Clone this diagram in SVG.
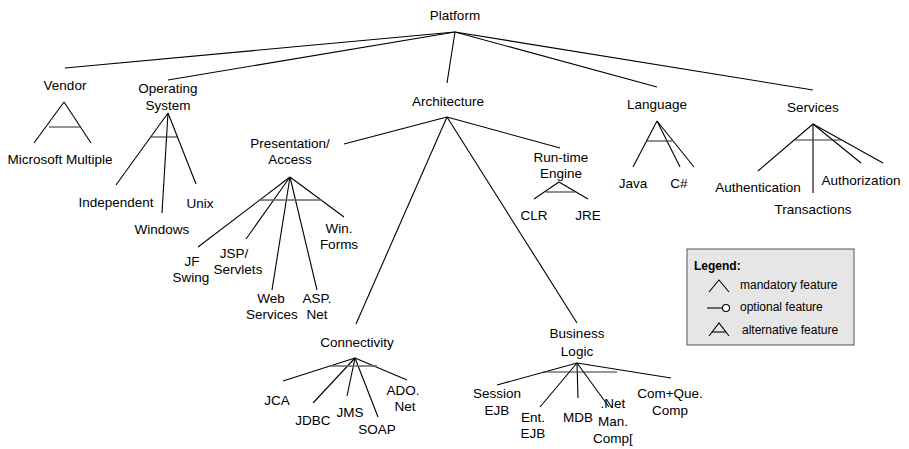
<svg xmlns="http://www.w3.org/2000/svg" width="909" height="449" viewBox="0 0 909 449">
<style>
text{font-family:"Liberation Sans",Arial,sans-serif;font-size:13.5px;fill:#000;text-anchor:middle}
.lg{font-size:12px;text-anchor:start}
.lgb{font-size:12px;font-weight:bold;text-anchor:start}
line,polyline{stroke:#000;stroke-width:1.1;fill:none}
.bar{stroke:#333}
.gbar{stroke:#666;stroke-width:1.4}
</style>
<rect width="909" height="449" fill="#fff"/>
<g id="connectors">
<!-- Platform -->
<line x1="455" y1="32" x2="65" y2="68"/>
<line x1="455" y1="32" x2="168" y2="80"/>
<line x1="455" y1="32" x2="447" y2="83"/>
<line x1="455" y1="32" x2="657" y2="87"/>
<line x1="455" y1="32" x2="813" y2="90"/>
<!-- Vendor -->
<line x1="64" y1="102" x2="34" y2="143"/>
<line x1="64" y1="102" x2="91" y2="143"/>
<line class="gbar" x1="49" y1="127" x2="80" y2="127"/>
<!-- OS -->
<line x1="168" y1="113" x2="116" y2="185"/>
<line x1="168" y1="113" x2="162" y2="213"/>
<line x1="168" y1="113" x2="196" y2="184"/>
<line class="bar" x1="151" y1="137" x2="177" y2="137"/>
<!-- Architecture -->
<line x1="447" y1="117" x2="344" y2="144"/>
<line x1="447" y1="117" x2="356" y2="324"/>
<line x1="447" y1="117" x2="577" y2="323"/>
<line x1="447" y1="117" x2="560" y2="148"/>
<!-- Presentation -->
<line x1="290" y1="177" x2="198" y2="247"/>
<line x1="290" y1="177" x2="246" y2="239"/>
<line x1="290" y1="177" x2="272" y2="290"/>
<line x1="290" y1="177" x2="317" y2="290"/>
<line x1="290" y1="177" x2="344" y2="217"/>
<line class="gbar" x1="259" y1="200" x2="322" y2="200"/>
<!-- Connectivity -->
<line x1="355" y1="358" x2="283" y2="381"/>
<line x1="355" y1="358" x2="313" y2="403"/>
<line x1="355" y1="358" x2="347" y2="396"/>
<line x1="355" y1="358" x2="378" y2="417"/>
<line x1="355" y1="358" x2="407" y2="380"/>
<line class="gbar" x1="329" y1="366" x2="377" y2="366"/>
<!-- Business Logic -->
<line x1="577" y1="363" x2="497" y2="385"/>
<line x1="577" y1="363" x2="540" y2="407"/>
<line x1="577" y1="363" x2="578" y2="398"/>
<line x1="577" y1="363" x2="609" y2="407"/>
<line x1="577" y1="363" x2="671" y2="378"/>
<line class="bar" x1="543" y1="372" x2="617" y2="372"/>
<!-- Run-time -->
<line x1="559" y1="182" x2="534" y2="199"/>
<line x1="559" y1="182" x2="588" y2="199"/>
<line class="bar" x1="546" y1="192" x2="575" y2="192"/>
<!-- Language -->
<line x1="657" y1="121" x2="633" y2="167"/>
<line x1="657" y1="121" x2="680" y2="167"/>
<line x1="657" y1="121" x2="694" y2="167"/>
<line class="bar" x1="646" y1="141" x2="672" y2="141"/>
<!-- Services -->
<line x1="813" y1="124" x2="758" y2="171"/>
<line x1="813" y1="124" x2="813" y2="193"/>
<line x1="813" y1="124" x2="861" y2="163"/>
<line x1="813" y1="124" x2="883" y2="163"/>
<line class="bar" x1="795" y1="140" x2="842" y2="140"/>
</g>
<g id="platform"><text x="455" y="20">Platform</text></g>
<g id="vendor"><text x="65" y="90">Vendor</text></g>
<g id="microsoft-multiple"><text x="60" y="164">Microsoft Multiple</text></g>
<g id="operating-system"><text x="168" y="93">Operating</text><text x="168" y="110">System</text></g>
<g id="independent"><text x="116" y="207">Independent</text></g>
<g id="windows"><text x="162" y="234">Windows</text></g>
<g id="unix"><text x="200" y="208">Unix</text></g>
<g id="architecture"><text x="448" y="106">Architecture</text></g>
<g id="presentation"><text x="290" y="148">Presentation/</text><text x="290" y="164">Access</text></g>
<g id="jf-swing"><text x="192" y="266">JF</text><text x="191" y="282">Swing</text></g>
<g id="jsp"><text x="234" y="258">JSP/</text><text x="238" y="274">Servlets</text></g>
<g id="web-services"><text x="271" y="303">Web</text><text x="272" y="319">Services</text></g>
<g id="asp-net"><text x="317" y="303">ASP.</text><text x="317" y="319">Net</text></g>
<g id="win-forms"><text x="339" y="233">Win.</text><text x="339" y="249">Forms</text></g>
<g id="connectivity"><text x="357" y="347">Connectivity</text></g>
<g id="jca"><text x="277" y="405">JCA</text></g>
<g id="jdbc"><text x="313" y="425">JDBC</text></g>
<g id="jms"><text x="350" y="417">JMS</text></g>
<g id="soap"><text x="377" y="434">SOAP</text></g>
<g id="ado-net"><text x="403" y="395">ADO.</text><text x="405" y="411">Net</text></g>
<g id="business-logic"><text x="577" y="338">Business</text><text x="577" y="356">Logic</text></g>
<g id="session-ejb"><text x="497" y="398">Session</text><text x="497" y="415">EJB</text></g>
<g id="ent-ejb"><text x="533" y="422">Ent.</text><text x="533" y="438">EJB</text></g>
<g id="mdb"><text x="578" y="422">MDB</text></g>
<g id="net-man-comp"><text x="613" y="408">.Net</text><text x="613" y="426">Man.</text><text x="613" y="443">Comp[</text></g>
<g id="com-que-comp"><text x="670" y="398">Com+Que.</text><text x="670" y="415">Comp</text></g>
<g id="runtime-engine"><text x="561" y="162">Run-time</text><text x="561" y="178">Engine</text></g>
<g id="clr"><text x="534" y="220">CLR</text></g>
<g id="jre"><text x="588" y="220">JRE</text></g>
<g id="language"><text x="657" y="109">Language</text></g>
<g id="java"><text x="633" y="188">Java</text></g>
<g id="csharp"><text x="679" y="188">C#</text></g>
<g id="services"><text x="813" y="112">Services</text></g>
<g id="authentication"><text x="758" y="192">Authentication</text></g>
<g id="transactions"><text x="813" y="214">Transactions</text></g>
<g id="authorization"><text x="861" y="185">Authorization</text></g>
<g id="legend">
<rect x="687" y="249" width="167" height="96" fill="#e6e6e6" stroke="#555" stroke-width="1"/>
<text class="lgb" x="694" y="270">Legend:</text>
<polyline points="709,292 719,280 729,292"/>
<text class="lg" x="740" y="289">mandatory feature</text>
<line x1="707" y1="308" x2="722.5" y2="308"/>
<circle cx="726" cy="308" r="3.5" fill="#fff" stroke="#000" stroke-width="1.1"/>
<text class="lg" x="740" y="311">optional feature</text>
<polyline points="709,336 719,323 729,336"/>
<line x1="712" y1="332" x2="726" y2="332"/>
<text class="lg" x="742" y="334">alternative feature</text>
</g>
</svg>
